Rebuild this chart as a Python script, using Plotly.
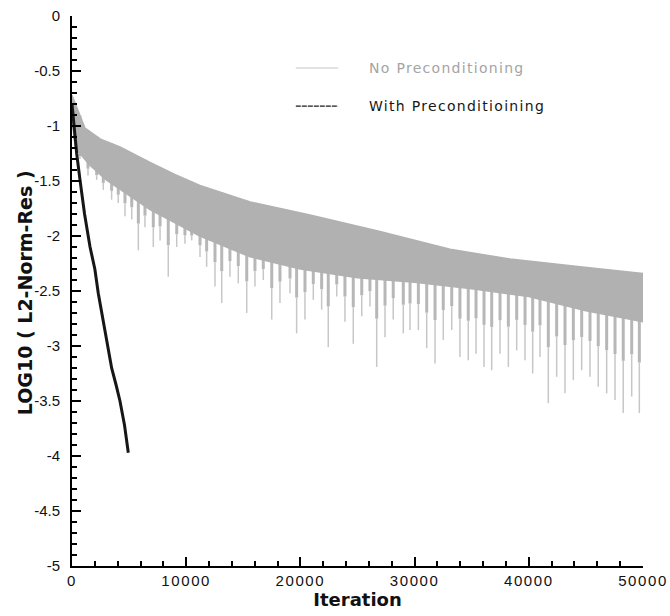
import numpy as np
import plotly.graph_objects as go

# ---- residual history without preconditioning: dense oscillating band ----
band_iter = [0, 300, 1140, 2500, 4200, 6830, 9000, 11200, 15600, 20840, 26970, 33100, 38350, 44480, 50000]
band_top = [-0.72, -0.80, -1.02, -1.12, -1.19, -1.33, -1.44, -1.54, -1.69, -1.81, -1.96, -2.12, -2.21, -2.28, -2.34]

low_iter = [0, 300, 1500, 3000, 6830, 11200, 15600, 20000, 25000, 30000, 35000, 40000, 45000, 50000]
band_low = [-0.95, -1.20, -1.35, -1.49, -1.76, -2.00, -2.19, -2.30, -2.38, -2.42, -2.48, -2.55, -2.68, -2.78]

# periodic dips of the residual (iteration, minimum LOG10 value)
spike_iter = [700, 1400, 2160, 2740, 3470, 4050, 4640, 5230, 5810, 6390, 7120, 7710, 8430, 9170,
              9890, 10480, 11210, 11790, 12520, 13110, 13830, 14560, 15300, 16020, 16750, 17490,
              18210, 19090, 19670, 20400, 21130, 21860, 22440, 23180, 23900, 24630, 25370, 26090,
              26680, 27410, 28130, 29010, 29600, 30330, 31060, 31790, 32510, 33250, 33970, 34700,
              35380, 36080, 36750, 37480, 38210, 38940, 39670, 40340, 40980, 41710, 42440, 43170,
              43900, 44630, 45360, 46080, 46820, 47550, 48270, 49010, 49680]
spike_min = [-1.30, -1.45, -1.49, -1.58, -1.67, -1.70, -1.82, -1.85, -2.13, -1.92, -2.10, -2.04,
             -2.37, -2.10, -2.07, -2.04, -2.19, -2.28, -2.46, -2.61, -2.37, -2.43, -2.70, -2.46,
             -2.40, -2.76, -2.61, -2.52, -2.885, -2.76, -2.58, -2.67, -3.01, -2.55, -2.78, -2.98,
             -2.73, -2.64, -3.19, -2.92, -2.76, -2.885, -2.855, -2.855, -3.02, -3.16, -2.945,
             -2.855, -3.10, -3.13, -3.07, -3.19, -3.22, -3.07, -3.19, -3.04, -3.13, -3.25, -3.10,
             -3.52, -3.28, -3.43, -3.31, -3.22, -3.28, -3.37, -3.43, -3.49, -3.61, -3.46, -3.61]

# ---- residual history with preconditioning ----
pre_iter = [0, 200, 410, 700, 1100, 1580, 2000, 2300, 2740, 3100, 3470, 3850, 4200, 4600, 4930]
pre_res = [-0.80, -1.05, -1.25, -1.49, -1.80, -2.10, -2.30, -2.52, -2.79, -3.00, -3.20, -3.35,
           -3.50, -3.72, -3.97]

# tick labels
x_ticks = [0, 10000, 20000, 30000, 40000, 50000]
y_ticks = [0, -0.5, -1, -1.5, -2, -2.5, -3, -3.5, -4, -4.5, -5]
y_tick_text = ["0", "-0.5", "-1", "-1.5", "-2", "-2.5", "-3", "-3.5", "-4", "-4.5", "-5"]

series_names = ["No Preconditioning", "With Preconditioining"]

GRAY = "#b1b1b1"
BLACK = "#161616"
HELV = "Liberation Sans, Arial, Helvetica, sans-serif"
WIDE = "DejaVu Sans, Verdana, sans-serif"

assert len(spike_iter) == len(spike_min)

# connect each dip to the band: thick upper part, thin tip
sx_wide, sy_wide, sx_tip, sy_tip = [], [], [], []
for it, lo in zip(spike_iter, spike_min):
    top = float(np.interp(it, band_iter, band_top))
    bot = float(np.interp(it, low_iter, band_low))
    mid = bot + 0.45 * (lo - bot) if lo < bot else lo
    sx_wide += [it, it, None]
    sy_wide += [top, mid, None]
    sx_tip += [it, it, None]
    sy_tip += [mid, lo, None]

fig = go.Figure()

fig.add_trace(go.Scatter(
    x=sx_wide, y=sy_wide, mode="lines",
    line=dict(color="rgba(170,170,170,0.85)", width=3),
    name=series_names[0], showlegend=False, hoverinfo="skip"))
fig.add_trace(go.Scatter(
    x=sx_tip, y=sy_tip, mode="lines",
    line=dict(color="rgba(185,185,185,0.8)", width=1.5),
    showlegend=False, hoverinfo="skip"))

# dense band body
band_x = list(band_iter) + list(low_iter[::-1])
band_y = list(band_top) + list(band_low[::-1])
fig.add_trace(go.Scatter(
    x=band_x, y=band_y, mode="lines", fill="toself", fillcolor=GRAY,
    line=dict(color=GRAY, width=1.5), showlegend=False, hoverinfo="skip"))

# preconditioned run
fig.add_trace(go.Scatter(
    x=pre_iter, y=pre_res, mode="lines",
    line=dict(color=BLACK, width=3),
    name=series_names[1], showlegend=False))

# legend drawn as line samples + labels in the upper middle of the plot
legend_rows = [
    (0.9055, dict(color="#c6c6c6", width=1.2), "#a4a4a4"),
    (0.836, dict(color="#1c1c1c", width=1.2, dash="5px,1px"), "#161616"),
]
for (ypos, lstyle, tcolor), label in zip(legend_rows, series_names):
    fig.add_shape(type="line", xref="paper", yref="paper",
                  x0=0.392, x1=0.466, y0=ypos, y1=ypos, line=lstyle)
    fig.add_annotation(xref="paper", yref="paper", x=0.516, y=ypos,
                       xanchor="left", yanchor="middle", showarrow=False,
                       text=f"<span style='letter-spacing:1.3px'>{label}</span>",
                       font=dict(family=WIDE, size=14, color=tcolor))

# vertical axis title, placed just left of the tick labels
fig.add_annotation(xref="paper", yref="paper", x=-0.083, y=0.497,
                   xanchor="center", yanchor="middle", showarrow=False, textangle=-90,
                   text="<b>LOG10 ( L2-Norm-Res )</b>",
                   font=dict(family=WIDE, size=19, color="#111"))

x_tick_text = [f"<span style='letter-spacing:1.6px'>{v}</span>" for v in x_ticks]

fig.update_layout(
    width=670, height=616,
    margin=dict(l=72, r=27, t=16, b=50),
    paper_bgcolor="white", plot_bgcolor="white",
    font=dict(family=HELV, size=15, color="#111"),
    showlegend=False,
    xaxis=dict(
        range=[0, 50000], tickvals=x_ticks, ticktext=x_tick_text,
        showgrid=False, zeroline=False, showline=True, linecolor="black", linewidth=2,
        ticks="inside", ticklen=9, tickwidth=2, tickcolor="black",
        minor=dict(dtick=2000, ticks="inside", ticklen=5, tickwidth=1.5, tickcolor="black"),
        title=dict(text="<b>Iteration</b>", font=dict(family=WIDE, size=18, color="#111"),
                   standoff=3),
        tickfont=dict(family=HELV, size=15, color="#111"),
        automargin=False),
    yaxis=dict(
        range=[-5, 0], tickvals=y_ticks, ticktext=y_tick_text,
        showgrid=False, zeroline=False, showline=True, linecolor="black", linewidth=2,
        ticks="inside", ticklen=9, tickwidth=2, tickcolor="black",
        minor=dict(dtick=0.1, ticks="inside", ticklen=5, tickwidth=1.5, tickcolor="black"),
        tickfont=dict(family=HELV, size=15, color="#111"),
        ticklabelstandoff=7,
        automargin=False),
)

fig.write_html("out.html")
